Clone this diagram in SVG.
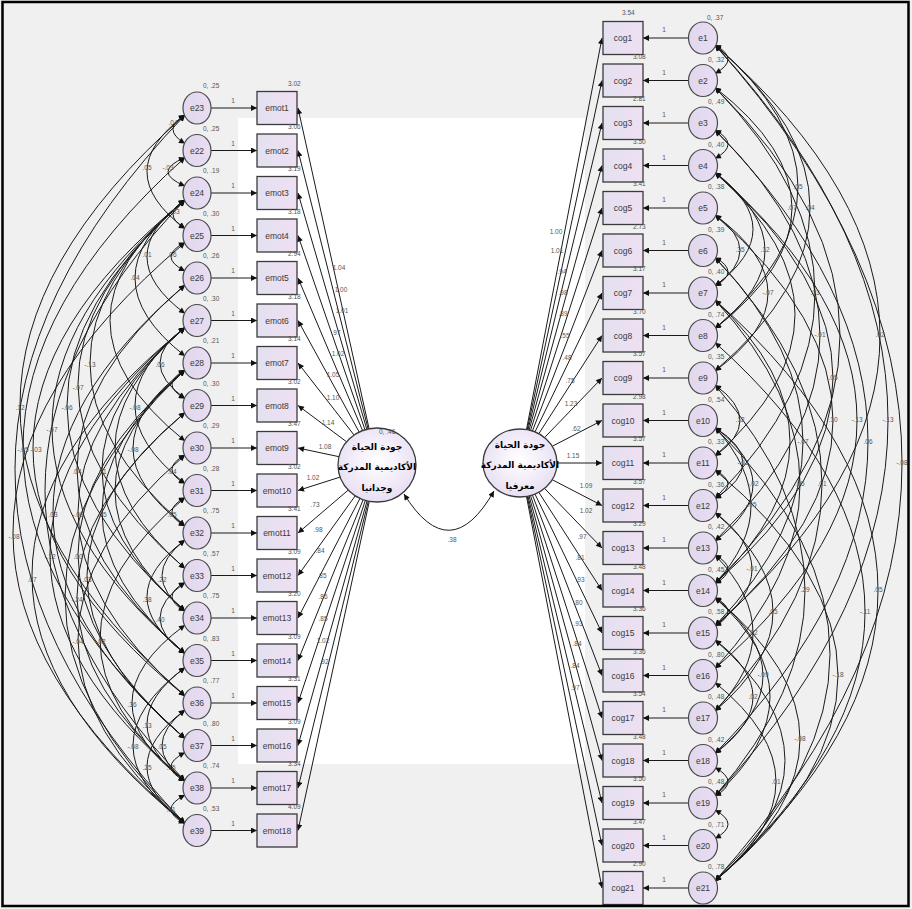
<svg xmlns="http://www.w3.org/2000/svg" width="912" height="909" viewBox="0 0 912 909">
<defs>
<style>
.bx{fill:url(#gb);stroke:#3a3a3a;stroke-width:1.3}
.er{fill:url(#gc);stroke:#4a4a4a;stroke-width:1.2}
.lv{fill:url(#gl);stroke:#3a3a3a;stroke-width:1.3}
.nt{font-family:"Liberation Sans",Arial,sans-serif;font-size:8.5px;fill:#3a3a3a;text-anchor:middle}
.lb{font-family:"Liberation Sans",Arial,sans-serif;font-size:6.5px;fill:#555}
.lm{font-family:"Liberation Sans",Arial,sans-serif;font-size:6.5px;fill:#555;text-anchor:middle}
.ar{font-family:"DejaVu Sans",sans-serif;font-size:9px;font-weight:bold;fill:#000;text-anchor:middle}
.ln{stroke:#1a1a1a;stroke-width:1;fill:none;marker-end:url(#ah)}
.cv{stroke:#1a1a1a;stroke-width:1;fill:none;marker-start:url(#ah);marker-end:url(#ah)}
</style>
<linearGradient id="gb" x1="0" y1="0" x2="1" y2="0"><stop offset="0" stop-color="#e3e1ef"/><stop offset="1" stop-color="#efdff3"/></linearGradient>
<linearGradient id="gc" x1="0" y1="0" x2="1" y2="0"><stop offset="0" stop-color="#e0d8ee"/><stop offset="1" stop-color="#e9ddf2"/></linearGradient>
<radialGradient id="gl" cx="0.5" cy="0.45" r="0.6"><stop offset="0" stop-color="#ffffff"/><stop offset="1" stop-color="#e6dcf2"/></radialGradient>
<marker id="ah" viewBox="0 0 10 10" refX="10" refY="5" markerWidth="8" markerHeight="6" markerUnits="userSpaceOnUse" orient="auto-start-reverse"><path d="M0,0 L10,5 L0,10 z" fill="#111"/></marker>
</defs>
<rect x="0" y="0" width="912" height="909" fill="#f0f0f0"/>
<rect x="238" y="118" width="347" height="646" fill="#ffffff"/>

<g id="connectors">
<!-- left loadings -->
<path class="ln" d="M369.1,428.8 L298,108"/>
<path class="ln" d="M368.1,429 L298,150.5"/>
<path class="ln" d="M366.8,429.3 L298,193"/>
<path class="ln" d="M365,429.8 L298,235.5"/>
<path class="ln" d="M362.6,430.6 L298,278"/>
<path class="ln" d="M359.2,432.1 L298,320.5"/>
<path class="ln" d="M354.1,435.1 L298,363"/>
<path class="ln" d="M346.6,441.8 L298,405.5"/>
<path class="ln" d="M339,456.7 L298,448"/>
<path class="ln" d="M340.1,477.1 L298,490.5"/>
<path class="ln" d="M348.3,490 L298,533"/>
<path class="ln" d="M355.3,495.7 L298,575.5"/>
<path class="ln" d="M360,498.3 L298,618"/>
<path class="ln" d="M363.2,499.6 L298,660.5"/>
<path class="ln" d="M365.4,500.3 L298,703"/>
<path class="ln" d="M367.1,500.8 L298,745.5"/>
<path class="ln" d="M368.3,501.1 L298,788"/>
<path class="ln" d="M369.3,501.3 L298,830.5"/>
<!-- right loadings -->
<path class="ln" d="M526.5,429.5 L602,38"/>
<path class="ln" d="M527.2,429.6 L602,80.5"/>
<path class="ln" d="M528,429.8 L602,123"/>
<path class="ln" d="M529.1,430 L602,165.5"/>
<path class="ln" d="M530.5,430.4 L602,208"/>
<path class="ln" d="M532.4,431 L602,250.5"/>
<path class="ln" d="M535,431.9 L602,293"/>
<path class="ln" d="M538.8,433.7 L602,335.5"/>
<path class="ln" d="M544.5,437.6 L602,378"/>
<path class="ln" d="M552.2,446.3 L602,420.5"/>
<path class="ln" d="M557,463 L602,463"/>
<path class="ln" d="M552.2,479.7 L602,505.5"/>
<path class="ln" d="M544.5,488.4 L602,548"/>
<path class="ln" d="M538.8,492.3 L602,590.5"/>
<path class="ln" d="M535,494.1 L602,633"/>
<path class="ln" d="M532.4,495 L602,675.5"/>
<path class="ln" d="M530.5,495.6 L602,718"/>
<path class="ln" d="M529.1,496 L602,760.5"/>
<path class="ln" d="M528,496.2 L602,803"/>
<path class="ln" d="M527.2,496.4 L602,845.5"/>
<path class="ln" d="M526.5,496.5 L602,888"/>
<!-- left loading labels -->
<g class="lm">
<text x="339" y="270">1.04</text><text x="341" y="292">1.00</text><text x="342" y="313">1.01</text><text x="336" y="335">.97</text>
<text x="338" y="356">1.02</text><text x="333" y="377">1.05</text><text x="333" y="400">1.10</text><text x="328" y="425">1.14</text>
<text x="325" y="449">1.08</text><text x="313" y="480">1.02</text><text x="315" y="507">.73</text><text x="318" y="532">.98</text>
<text x="320" y="553">.84</text><text x="322" y="578">.85</text><text x="323" y="599">.86</text><text x="323" y="621">.85</text>
<text x="323" y="643">1.02</text><text x="324" y="664">.92</text>
</g>
<!-- right loading labels -->
<g class="lm">
<text x="556" y="234">1.00</text><text x="557" y="253">1.01</text><text x="562" y="274">.94</text><text x="563" y="295">.98</text>
<text x="563" y="316">.89</text><text x="565" y="338">.55</text><text x="567" y="360">.48</text><text x="570" y="383">.75</text>
<text x="571" y="406">1.23</text><text x="576" y="431">.62</text><text x="573" y="458">1.15</text><text x="586" y="488">1.09</text>
<text x="586" y="513">1.02</text><text x="582" y="539">.97</text><text x="580" y="560">.81</text><text x="580" y="582">.93</text>
<text x="578" y="605">.80</text><text x="578" y="626">.93</text><text x="577" y="646">.84</text><text x="575" y="668">.84</text>
<text x="575" y="690">.97</text>
</g>
<!-- error arrows left -->
<g>
<path class="ln" d="M211,108 L257,108"/><path class="ln" d="M211,150.5 L257,150.5"/><path class="ln" d="M211,193 L257,193"/>
<path class="ln" d="M211,235.5 L257,235.5"/><path class="ln" d="M211,278 L257,278"/><path class="ln" d="M211,320.5 L257,320.5"/>
<path class="ln" d="M211,363 L257,363"/><path class="ln" d="M211,405.5 L257,405.5"/><path class="ln" d="M211,448 L257,448"/>
<path class="ln" d="M211,490.5 L257,490.5"/><path class="ln" d="M211,533 L257,533"/><path class="ln" d="M211,575.5 L257,575.5"/>
<path class="ln" d="M211,618 L257,618"/><path class="ln" d="M211,660.5 L257,660.5"/><path class="ln" d="M211,703 L257,703"/>
<path class="ln" d="M211,745.5 L257,745.5"/><path class="ln" d="M211,788 L257,788"/><path class="ln" d="M211,830.5 L257,830.5"/>
</g>
<g class="lm">
<text x="233" y="103">1</text><text x="233" y="145.5">1</text><text x="233" y="188">1</text><text x="233" y="230.5">1</text>
<text x="233" y="273">1</text><text x="233" y="315.5">1</text><text x="233" y="358">1</text><text x="233" y="400.5">1</text>
<text x="233" y="443">1</text><text x="233" y="485.5">1</text><text x="233" y="528">1</text><text x="233" y="570.5">1</text>
<text x="233" y="613">1</text><text x="233" y="655.5">1</text><text x="233" y="698">1</text><text x="233" y="740.5">1</text>
<text x="233" y="783">1</text><text x="233" y="825.5">1</text>
</g>
<!-- error arrows right -->
<g>
<path class="ln" d="M688.5,38 L643,38"/><path class="ln" d="M688.5,80.5 L643,80.5"/><path class="ln" d="M688.5,123 L643,123"/>
<path class="ln" d="M688.5,165.5 L643,165.5"/><path class="ln" d="M688.5,208 L643,208"/><path class="ln" d="M688.5,250.5 L643,250.5"/>
<path class="ln" d="M688.5,293 L643,293"/><path class="ln" d="M688.5,335.5 L643,335.5"/><path class="ln" d="M688.5,378 L643,378"/>
<path class="ln" d="M688.5,420.5 L643,420.5"/><path class="ln" d="M688.5,463 L643,463"/><path class="ln" d="M688.5,505.5 L643,505.5"/>
<path class="ln" d="M688.5,548 L643,548"/><path class="ln" d="M688.5,590.5 L643,590.5"/><path class="ln" d="M688.5,633 L643,633"/>
<path class="ln" d="M688.5,675.5 L643,675.5"/><path class="ln" d="M688.5,718 L643,718"/><path class="ln" d="M688.5,760.5 L643,760.5"/>
<path class="ln" d="M688.5,803 L643,803"/><path class="ln" d="M688.5,845.5 L643,845.5"/><path class="ln" d="M688.5,888 L643,888"/>
</g>
<g class="lm">
<text x="664" y="32">1</text><text x="664" y="74.5">1</text><text x="664" y="117">1</text><text x="664" y="159.5">1</text>
<text x="664" y="202">1</text><text x="664" y="244.5">1</text><text x="664" y="287">1</text><text x="664" y="329.5">1</text>
<text x="664" y="372">1</text><text x="664" y="414.5">1</text><text x="664" y="457">1</text><text x="664" y="499.5">1</text>
<text x="664" y="542">1</text><text x="664" y="584.5">1</text><text x="664" y="627">1</text><text x="664" y="669.5">1</text>
<text x="664" y="712">1</text><text x="664" y="754.5">1</text><text x="664" y="797">1</text><text x="664" y="839.5">1</text>
<text x="664" y="882">1</text>
</g>
<!-- left covariance arcs -->
<g>
<path class="cv" d="M185,115 Q161,129.25 185,143.5"/>
<path class="cv" d="M185,115 Q109,171.75 185,228.5"/>
<path class="cv" d="M185,157.5 Q151,171.75 185,186"/>
<path class="cv" d="M185,200 Q161,214.25 185,228.5"/>
<path class="cv" d="M185,200 Q109,256.75 185,313.5"/>
<path class="cv" d="M185,242.5 Q157,256.75 185,271"/>
<path class="cv" d="M185,200 Q85,278 185,356"/>
<path class="cv" d="M185,200 Q-5,363 185,526"/>
<path class="cv" d="M185,327.5 Q135,363 185,398.5"/>
<path class="cv" d="M185,200 Q-29,384.25 185,568.5"/>
<path class="cv" d="M185,200 Q-51,405.5 185,611"/>
<path class="cv" d="M185,115 Q-145,405.5 185,696"/>
<path class="cv" d="M185,200 Q-81,426.75 185,653.5"/>
<path class="cv" d="M185,327.5 Q85,405.5 185,483.5"/>
<path class="cv" d="M185,157.5 Q-139,448 185,738.5"/>
<path class="cv" d="M185,200 Q-119,448 185,696"/>
<path class="cv" d="M185,370 Q81,448 185,526"/>
<path class="cv" d="M185,285 Q-31,469.25 185,653.5"/>
<path class="cv" d="M185,327.5 Q19,469.25 185,611"/>
<path class="cv" d="M185,455 Q159,469.25 185,483.5"/>
<path class="cv" d="M185,285 Q-79,511.75 185,738.5"/>
<path class="cv" d="M185,327.5 Q-29,511.75 185,696"/>
<path class="cv" d="M185,370 Q19,511.75 185,653.5"/>
<path class="cv" d="M185,497.5 Q159,511.75 185,526"/>
<path class="cv" d="M185,242.5 Q-159,533 185,823.5"/>
<path class="cv" d="M185,327.5 Q-85,554.25 185,781"/>
<path class="cv" d="M185,370 Q-29,554.25 185,738.5"/>
<path class="cv" d="M185,327.5 Q-121,575.5 185,823.5"/>
<path class="cv" d="M185,412.5 Q-11,575.5 185,738.5"/>
<path class="cv" d="M185,540 Q139,575.5 185,611"/>
<path class="cv" d="M185,412.5 Q-31,596.75 185,781"/>
<path class="cv" d="M185,540 Q109,596.75 185,653.5"/>
<path class="cv" d="M185,582.5 Q135,618 185,653.5"/>
<path class="cv" d="M185,455 Q-29,639.25 185,823.5"/>
<path class="cv" d="M185,497.5 Q15,639.25 185,781"/>
<path class="cv" d="M185,625 Q79,703 185,781"/>
<path class="cv" d="M185,667.5 Q109,724.25 185,781"/>
<path class="cv" d="M185,710 Q139,745.5 185,781"/>
<path class="cv" d="M185,667.5 Q81,745.5 185,823.5"/>
<path class="cv" d="M185,710 Q109,766.75 185,823.5"/>
<path class="cv" d="M185,752.5 Q157,766.75 185,781"/>
<path class="cv" d="M185,795 Q157,809.25 185,823.5"/>
<path class="cv" d="M185,115 Q-155,469.25 185,823.5"/>
<path class="cv" d="M185,200 Q35,320.5 185,441"/>
<path class="cv" d="M185,327.5 Q45,448 185,568.5"/>
<path class="cv" d="M185,370 Q45,490.5 185,611"/>
<path class="cv" d="M185,200 Q-95,490.5 185,781"/>
<path class="cv" d="M185,370 Q-55,596.75 185,823.5"/>
<path class="cv" d="M185,582.5 Q159,596.75 185,611"/>
<path class="cv" d="M185,370 Q159,384.25 185,398.5"/>
</g>
<g class="lm">
<text x="173" y="125">.04</text><text x="147" y="170">.05</text><text x="168" y="170">-.03</text><text x="175" y="214">.03</text>
<text x="147" y="257">.01</text><text x="172" y="257">.06</text><text x="135" y="280">.04</text><text x="90" y="367">-.13</text>
<text x="160" y="367">.06</text><text x="78" y="390">-.07</text><text x="67" y="410">-.06</text><text x="20" y="410">.12</text>
<text x="52" y="432">-.07</text><text x="135" y="410">-.08</text><text x="23" y="452">-.05</text><text x="36" y="452">-.03</text>
<text x="133" y="452">-.08</text><text x="77" y="474">.04</text><text x="102" y="474">.01</text><text x="172" y="474">.04</text>
<text x="53" y="517">.03</text><text x="78" y="517">-.08</text><text x="102" y="517">.05</text><text x="172" y="517">.05</text>
<text x="14" y="539">-.08</text><text x="50" y="559">-.12</text><text x="78" y="559">.00</text><text x="32" y="582">.07</text>
<text x="87" y="582">.03</text><text x="162" y="582">.22</text><text x="77" y="602">-.24</text><text x="147" y="602">.38</text>
<text x="160" y="622">.40</text><text x="78" y="644">-.04</text><text x="100" y="644">-.02</text><text x="132" y="707">.36</text>
<text x="147" y="728">.13</text><text x="162" y="749">.05</text><text x="133" y="749">-.08</text><text x="147" y="770">.25</text>
<text x="171" y="770">.15</text><text x="171" y="812">.01</text>
</g>
<!-- right covariance arcs -->
<g>
<path class="cv" d="M715,45 Q881,186.75 715,328.5"/>
<path class="cv" d="M715,87.5 Q869,208 715,328.5"/>
<path class="cv" d="M715,45 Q905,208 715,371"/>
<path class="cv" d="M715,215 Q765,250.5 715,286"/>
<path class="cv" d="M715,172.5 Q815,250.5 715,328.5"/>
<path class="cv" d="M715,215 Q821,293 715,371"/>
<path class="cv" d="M715,87.5 Q915,293 715,498.5"/>
<path class="cv" d="M715,45 Q1045,335.5 715,626"/>
<path class="cv" d="M715,130 Q925,335.5 715,541"/>
<path class="cv" d="M715,172.5 Q951,378 715,583.5"/>
<path class="cv" d="M715,215 Q951,420.5 715,626"/>
<path class="cv" d="M715,172.5 Q999,420.5 715,668.5"/>
<path class="cv" d="M715,45 Q1061,420.5 715,796"/>
<path class="cv" d="M715,130 Q1021,441.75 715,753.5"/>
<path class="cv" d="M715,45 Q1089,463 715,881"/>
<path class="cv" d="M715,385 Q765,420.5 715,456"/>
<path class="cv" d="M715,257.5 Q891,441.75 715,626"/>
<path class="cv" d="M715,427.5 Q771,463 715,498.5"/>
<path class="cv" d="M715,427.5 Q791,484.25 715,541"/>
<path class="cv" d="M715,300 Q885,484.25 715,668.5"/>
<path class="cv" d="M715,257.5 Q929,484.25 715,711"/>
<path class="cv" d="M715,427.5 Q787,505.5 715,583.5"/>
<path class="cv" d="M715,512.5 Q789,569.25 715,626"/>
<path class="cv" d="M715,385 Q895,590.5 715,796"/>
<path class="cv" d="M715,300 Q1041,590.5 715,881"/>
<path class="cv" d="M715,342.5 Q1015,611.75 715,881"/>
<path class="cv" d="M715,512.5 Q831,611.75 715,711"/>
<path class="cv" d="M715,555 Q791,633 715,711"/>
<path class="cv" d="M715,597.5 Q811,675.5 715,753.5"/>
<path class="cv" d="M715,470 Q961,675.5 715,881"/>
<path class="cv" d="M715,640 Q791,696.75 715,753.5"/>
<path class="cv" d="M715,597.5 Q885,739.25 715,881"/>
<path class="cv" d="M715,682.5 Q837,781.75 715,881"/>
<path class="cv" d="M715,45 Q741,59.25 715,73.5"/>
<path class="cv" d="M715,130 Q741,144.25 715,158.5"/>
<path class="cv" d="M715,257.5 Q741,271.75 715,286"/>
<path class="cv" d="M715,470 Q741,484.25 715,498.5"/>
<path class="cv" d="M715,555 Q741,569.25 715,583.5"/>
<path class="cv" d="M715,597.5 Q741,611.75 715,626"/>
<path class="cv" d="M715,767.5 Q741,781.75 715,796"/>
<path class="cv" d="M715,810 Q741,824.25 715,838.5"/>
<path class="cv" d="M715,172.5 Q875,314.25 715,456"/>
<path class="cv" d="M715,300 Q865,441.75 715,583.5"/>
<path class="cv" d="M715,87.5 Q965,335.5 715,583.5"/>
<path class="cv" d="M715,427.5 Q945,654.25 715,881"/>
<path class="cv" d="M715,597.5 Q825,696.75 715,796"/>
<path class="cv" d="M715,640 Q855,760.5 715,881"/>
<path class="cv" d="M715,172.5 Q791,229.25 715,286"/>
</g>
<g class="lm">
<text x="798" y="189">.05</text><text x="792" y="210">.07</text><text x="810" y="210">.04</text><text x="740" y="252">.35</text>
<text x="765" y="252">.12</text><text x="768" y="295">-.07</text><text x="815" y="295">.03</text><text x="880" y="337">.02</text>
<text x="820" y="337">-.01</text><text x="833" y="380">.05</text><text x="833" y="422">.10</text><text x="857" y="422">-.13</text>
<text x="888" y="422">-.13</text><text x="868" y="444">.06</text><text x="902" y="465">-.08</text><text x="740" y="422">.12</text>
<text x="803" y="444">-.07</text><text x="743" y="465">-.03</text><text x="753" y="486">-.02</text><text x="800" y="486">.05</text>
<text x="822" y="486">.01</text><text x="751" y="507">-.05</text><text x="752" y="571">-.01</text><text x="805" y="592">.29</text>
<text x="878" y="592">.05</text><text x="865" y="614">-.11</text><text x="773" y="614">.05</text><text x="753" y="635">.02</text>
<text x="763" y="677">-.09</text><text x="838" y="677">-.18</text><text x="753" y="699">.02</text><text x="800" y="741">-.08</text>
<text x="776" y="784">.01</text>
</g>
<!-- latent covariance -->
<path class="cv" d="M404,494 Q450,568 494,491"/>
<text class="lm" x="452" y="542">.38</text>
</g>

<!-- left latent -->
<g id="F_emot">
<ellipse class="lv" cx="377" cy="465" rx="39" ry="37"/>
<text class="ar" x="377" y="450">جودة الحياة</text>
<text class="ar" x="377" y="470">الأكاديمية المدركة</text>
<text class="ar" x="377" y="491">وجدانيا</text>
<text class="lb" x="379" y="434">0, .46</text>
</g>
<!-- right latent -->
<g id="F_cog">
<ellipse class="lv" cx="520" cy="463" rx="37" ry="34"/>
<text class="ar" x="520" y="448">جودة الحياة</text>
<text class="ar" x="520" y="468">الأكاديمية المدركة</text>
<text class="ar" x="520" y="489">معرفيا</text>
</g>

<!-- left observed -->
<g id="emot1"><rect class="bx" x="257" y="91.5" width="40" height="33"/><text class="nt" x="277" y="111">emot1</text><text class="lb" x="288" y="86">3.02</text></g>
<g id="emot2"><rect class="bx" x="257" y="134" width="40" height="33"/><text class="nt" x="277" y="153.5">emot2</text><text class="lb" x="288" y="128.5">3.06</text></g>
<g id="emot3"><rect class="bx" x="257" y="176.5" width="40" height="33"/><text class="nt" x="277" y="196">emot3</text><text class="lb" x="288" y="171">3.19</text></g>
<g id="emot4"><rect class="bx" x="257" y="219" width="40" height="33"/><text class="nt" x="277" y="238.5">emot4</text><text class="lb" x="288" y="213.5">3.18</text></g>
<g id="emot5"><rect class="bx" x="257" y="261.5" width="40" height="33"/><text class="nt" x="277" y="281">emot5</text><text class="lb" x="288" y="256">2.94</text></g>
<g id="emot6"><rect class="bx" x="257" y="304" width="40" height="33"/><text class="nt" x="277" y="323.5">emot6</text><text class="lb" x="288" y="298.5">3.18</text></g>
<g id="emot7"><rect class="bx" x="257" y="346.5" width="40" height="33"/><text class="nt" x="277" y="366">emot7</text><text class="lb" x="288" y="341">3.14</text></g>
<g id="emot8"><rect class="bx" x="257" y="389" width="40" height="33"/><text class="nt" x="277" y="408.5">emot8</text><text class="lb" x="288" y="383.5">3.02</text></g>
<g id="emot9"><rect class="bx" x="257" y="431.5" width="40" height="33"/><text class="nt" x="277" y="451">emot9</text><text class="lb" x="288" y="426">3.47</text></g>
<g id="emot10"><rect class="bx" x="257" y="474" width="40" height="33"/><text class="nt" x="277" y="493.5">emot10</text><text class="lb" x="288" y="468.5">3.02</text></g>
<g id="emot11"><rect class="bx" x="257" y="516.5" width="40" height="33"/><text class="nt" x="277" y="536">emot11</text><text class="lb" x="288" y="511">3.41</text></g>
<g id="emot12"><rect class="bx" x="257" y="559" width="40" height="33"/><text class="nt" x="277" y="578.5">emot12</text><text class="lb" x="288" y="553.5">3.09</text></g>
<g id="emot13"><rect class="bx" x="257" y="601.5" width="40" height="33"/><text class="nt" x="277" y="621">emot13</text><text class="lb" x="288" y="596">3.20</text></g>
<g id="emot14"><rect class="bx" x="257" y="644" width="40" height="33"/><text class="nt" x="277" y="663.5">emot14</text><text class="lb" x="288" y="638.5">3.09</text></g>
<g id="emot15"><rect class="bx" x="257" y="686.5" width="40" height="33"/><text class="nt" x="277" y="706">emot15</text><text class="lb" x="288" y="681">3.31</text></g>
<g id="emot16"><rect class="bx" x="257" y="729" width="40" height="33"/><text class="nt" x="277" y="748.5">emot16</text><text class="lb" x="288" y="723.5">3.09</text></g>
<g id="emot17"><rect class="bx" x="257" y="771.5" width="40" height="33"/><text class="nt" x="277" y="791">emot17</text><text class="lb" x="288" y="766">3.34</text></g>
<g id="emot18"><rect class="bx" x="257" y="814" width="40" height="33"/><text class="nt" x="277" y="833.5">emot18</text><text class="lb" x="288" y="808.5">4.09</text></g>

<!-- left errors -->
<g id="e23"><ellipse class="er" cx="197" cy="108" rx="14" ry="16"/><text class="nt" x="197" y="111">e23</text><text class="lb" x="203" y="88">0, .25</text></g>
<g id="e22"><ellipse class="er" cx="197" cy="150.5" rx="14" ry="16"/><text class="nt" x="197" y="153.5">e22</text><text class="lb" x="203" y="130.5">0, .25</text></g>
<g id="e24"><ellipse class="er" cx="197" cy="193" rx="14" ry="16"/><text class="nt" x="197" y="196">e24</text><text class="lb" x="203" y="173">0, .19</text></g>
<g id="e25"><ellipse class="er" cx="197" cy="235.5" rx="14" ry="16"/><text class="nt" x="197" y="238.5">e25</text><text class="lb" x="203" y="215.5">0, .30</text></g>
<g id="e26"><ellipse class="er" cx="197" cy="278" rx="14" ry="16"/><text class="nt" x="197" y="281">e26</text><text class="lb" x="203" y="258">0, .26</text></g>
<g id="e27"><ellipse class="er" cx="197" cy="320.5" rx="14" ry="16"/><text class="nt" x="197" y="323.5">e27</text><text class="lb" x="203" y="300.5">0, .30</text></g>
<g id="e28"><ellipse class="er" cx="197" cy="363" rx="14" ry="16"/><text class="nt" x="197" y="366">e28</text><text class="lb" x="203" y="343">0, .21</text></g>
<g id="e29"><ellipse class="er" cx="197" cy="405.5" rx="14" ry="16"/><text class="nt" x="197" y="408.5">e29</text><text class="lb" x="203" y="385.5">0, .30</text></g>
<g id="e30"><ellipse class="er" cx="197" cy="448" rx="14" ry="16"/><text class="nt" x="197" y="451">e30</text><text class="lb" x="203" y="428">0, .29</text></g>
<g id="e31"><ellipse class="er" cx="197" cy="490.5" rx="14" ry="16"/><text class="nt" x="197" y="493.5">e31</text><text class="lb" x="203" y="470.5">0, .28</text></g>
<g id="e32"><ellipse class="er" cx="197" cy="533" rx="14" ry="16"/><text class="nt" x="197" y="536">e32</text><text class="lb" x="203" y="513">0, .75</text></g>
<g id="e33"><ellipse class="er" cx="197" cy="575.5" rx="14" ry="16"/><text class="nt" x="197" y="578.5">e33</text><text class="lb" x="203" y="555.5">0, .57</text></g>
<g id="e34"><ellipse class="er" cx="197" cy="618" rx="14" ry="16"/><text class="nt" x="197" y="621">e34</text><text class="lb" x="203" y="598">0, .75</text></g>
<g id="e35"><ellipse class="er" cx="197" cy="660.5" rx="14" ry="16"/><text class="nt" x="197" y="663.5">e35</text><text class="lb" x="203" y="640.5">0, .83</text></g>
<g id="e36"><ellipse class="er" cx="197" cy="703" rx="14" ry="16"/><text class="nt" x="197" y="706">e36</text><text class="lb" x="203" y="683">0, .77</text></g>
<g id="e37"><ellipse class="er" cx="197" cy="745.5" rx="14" ry="16"/><text class="nt" x="197" y="748.5">e37</text><text class="lb" x="203" y="725.5">0, .80</text></g>
<g id="e38"><ellipse class="er" cx="197" cy="788" rx="14" ry="16"/><text class="nt" x="197" y="791">e38</text><text class="lb" x="203" y="768">0, .74</text></g>
<g id="e39"><ellipse class="er" cx="197" cy="830.5" rx="14" ry="16"/><text class="nt" x="197" y="833.5">e39</text><text class="lb" x="203" y="810.5">0, .53</text></g>

<!-- right observed -->
<g id="cog1"><rect class="bx" x="603" y="21.5" width="40" height="33"/><text class="nt" x="623" y="41">cog1</text><text class="lb" x="622" y="15">3.54</text></g>
<g id="cog2"><rect class="bx" x="603" y="64" width="40" height="33"/><text class="nt" x="623" y="83.5">cog2</text><text class="lb" x="633" y="58.5">3.08</text></g>
<g id="cog3"><rect class="bx" x="603" y="106.5" width="40" height="33"/><text class="nt" x="623" y="126">cog3</text><text class="lb" x="633" y="101">2.81</text></g>
<g id="cog4"><rect class="bx" x="603" y="149" width="40" height="33"/><text class="nt" x="623" y="168.5">cog4</text><text class="lb" x="633" y="143.5">3.50</text></g>
<g id="cog5"><rect class="bx" x="603" y="191.5" width="40" height="33"/><text class="nt" x="623" y="211">cog5</text><text class="lb" x="633" y="186">3.41</text></g>
<g id="cog6"><rect class="bx" x="603" y="234" width="40" height="33"/><text class="nt" x="623" y="253.5">cog6</text><text class="lb" x="633" y="228.5">2.73</text></g>
<g id="cog7"><rect class="bx" x="603" y="276.5" width="40" height="33"/><text class="nt" x="623" y="296">cog7</text><text class="lb" x="633" y="271">3.17</text></g>
<g id="cog8"><rect class="bx" x="603" y="319" width="40" height="33"/><text class="nt" x="623" y="338.5">cog8</text><text class="lb" x="633" y="313.5">3.70</text></g>
<g id="cog9"><rect class="bx" x="603" y="361.5" width="40" height="33"/><text class="nt" x="623" y="381">cog9</text><text class="lb" x="633" y="356">3.57</text></g>
<g id="cog10"><rect class="bx" x="603" y="404" width="40" height="33"/><text class="nt" x="623" y="423.5">cog10</text><text class="lb" x="633" y="398.5">2.98</text></g>
<g id="cog11"><rect class="bx" x="603" y="446.5" width="40" height="33"/><text class="nt" x="623" y="466">cog11</text><text class="lb" x="633" y="441">3.57</text></g>
<g id="cog12"><rect class="bx" x="603" y="489" width="40" height="33"/><text class="nt" x="623" y="508.5">cog12</text><text class="lb" x="633" y="483.5">3.57</text></g>
<g id="cog13"><rect class="bx" x="603" y="531.5" width="40" height="33"/><text class="nt" x="623" y="551">cog13</text><text class="lb" x="633" y="526">3.29</text></g>
<g id="cog14"><rect class="bx" x="603" y="574" width="40" height="33"/><text class="nt" x="623" y="593.5">cog14</text><text class="lb" x="633" y="568.5">3.48</text></g>
<g id="cog15"><rect class="bx" x="603" y="616.5" width="40" height="33"/><text class="nt" x="623" y="636">cog15</text><text class="lb" x="633" y="611">3.36</text></g>
<g id="cog16"><rect class="bx" x="603" y="659" width="40" height="33"/><text class="nt" x="623" y="678.5">cog16</text><text class="lb" x="633" y="653.5">3.36</text></g>
<g id="cog17"><rect class="bx" x="603" y="701.5" width="40" height="33"/><text class="nt" x="623" y="721">cog17</text><text class="lb" x="633" y="696">3.54</text></g>
<g id="cog18"><rect class="bx" x="603" y="744" width="40" height="33"/><text class="nt" x="623" y="763.5">cog18</text><text class="lb" x="633" y="738.5">3.48</text></g>
<g id="cog19"><rect class="bx" x="603" y="786.5" width="40" height="33"/><text class="nt" x="623" y="806">cog19</text><text class="lb" x="633" y="781">3.50</text></g>
<g id="cog20"><rect class="bx" x="603" y="829" width="40" height="33"/><text class="nt" x="623" y="848.5">cog20</text><text class="lb" x="633" y="823.5">3.47</text></g>
<g id="cog21"><rect class="bx" x="603" y="871.5" width="40" height="33"/><text class="nt" x="623" y="891">cog21</text><text class="lb" x="633" y="866">2.90</text></g>

<!-- right errors -->
<g id="e1"><ellipse class="er" cx="703" cy="38" rx="14.5" ry="16"/><text class="nt" x="703" y="41">e1</text><text class="lb" x="707" y="20">0, .37</text></g>
<g id="e2"><ellipse class="er" cx="703" cy="80.5" rx="14.5" ry="16"/><text class="nt" x="703" y="83.5">e2</text><text class="lb" x="708" y="61.5">0, .32</text></g>
<g id="e3"><ellipse class="er" cx="703" cy="123" rx="14.5" ry="16"/><text class="nt" x="703" y="126">e3</text><text class="lb" x="708" y="104">0, .49</text></g>
<g id="e4"><ellipse class="er" cx="703" cy="165.5" rx="14.5" ry="16"/><text class="nt" x="703" y="168.5">e4</text><text class="lb" x="708" y="146.5">0, .40</text></g>
<g id="e5"><ellipse class="er" cx="703" cy="208" rx="14.5" ry="16"/><text class="nt" x="703" y="211">e5</text><text class="lb" x="708" y="189">0, .38</text></g>
<g id="e6"><ellipse class="er" cx="703" cy="250.5" rx="14.5" ry="16"/><text class="nt" x="703" y="253.5">e6</text><text class="lb" x="708" y="231.5">0, .39</text></g>
<g id="e7"><ellipse class="er" cx="703" cy="293" rx="14.5" ry="16"/><text class="nt" x="703" y="296">e7</text><text class="lb" x="708" y="274">0, .40</text></g>
<g id="e8"><ellipse class="er" cx="703" cy="335.5" rx="14.5" ry="16"/><text class="nt" x="703" y="338.5">e8</text><text class="lb" x="708" y="316.5">0, .74</text></g>
<g id="e9"><ellipse class="er" cx="703" cy="378" rx="14.5" ry="16"/><text class="nt" x="703" y="381">e9</text><text class="lb" x="708" y="359">0, .35</text></g>
<g id="e10"><ellipse class="er" cx="703" cy="420.5" rx="14.5" ry="16"/><text class="nt" x="703" y="423.5">e10</text><text class="lb" x="708" y="401.5">0, .54</text></g>
<g id="e11"><ellipse class="er" cx="703" cy="463" rx="14.5" ry="16"/><text class="nt" x="703" y="466">e11</text><text class="lb" x="708" y="444">0, .33</text></g>
<g id="e12"><ellipse class="er" cx="703" cy="505.5" rx="14.5" ry="16"/><text class="nt" x="703" y="508.5">e12</text><text class="lb" x="708" y="486.5">0, .36</text></g>
<g id="e13"><ellipse class="er" cx="703" cy="548" rx="14.5" ry="16"/><text class="nt" x="703" y="551">e13</text><text class="lb" x="708" y="529">0, .42</text></g>
<g id="e14"><ellipse class="er" cx="703" cy="590.5" rx="14.5" ry="16"/><text class="nt" x="703" y="593.5">e14</text><text class="lb" x="708" y="571.5">0, .45</text></g>
<g id="e15"><ellipse class="er" cx="703" cy="633" rx="14.5" ry="16"/><text class="nt" x="703" y="636">e15</text><text class="lb" x="708" y="614">0, .58</text></g>
<g id="e16"><ellipse class="er" cx="703" cy="675.5" rx="14.5" ry="16"/><text class="nt" x="703" y="678.5">e16</text><text class="lb" x="708" y="656.5">0, .80</text></g>
<g id="e17"><ellipse class="er" cx="703" cy="718" rx="14.5" ry="16"/><text class="nt" x="703" y="721">e17</text><text class="lb" x="708" y="699">0, .48</text></g>
<g id="e18"><ellipse class="er" cx="703" cy="760.5" rx="14.5" ry="16"/><text class="nt" x="703" y="763.5">e18</text><text class="lb" x="708" y="741.5">0, .42</text></g>
<g id="e19"><ellipse class="er" cx="703" cy="803" rx="14.5" ry="16"/><text class="nt" x="703" y="806">e19</text><text class="lb" x="708" y="784">0, .48</text></g>
<g id="e20"><ellipse class="er" cx="703" cy="845.5" rx="14.5" ry="16"/><text class="nt" x="703" y="848.5">e20</text><text class="lb" x="708" y="826.5">0, .71</text></g>
<g id="e21"><ellipse class="er" cx="703" cy="888" rx="14.5" ry="16"/><text class="nt" x="703" y="891">e21</text><text class="lb" x="708" y="869">0, .78</text></g>

<rect x="2.5" y="2" width="906" height="904" fill="none" stroke="#000" stroke-width="2.5"/>
</svg>
